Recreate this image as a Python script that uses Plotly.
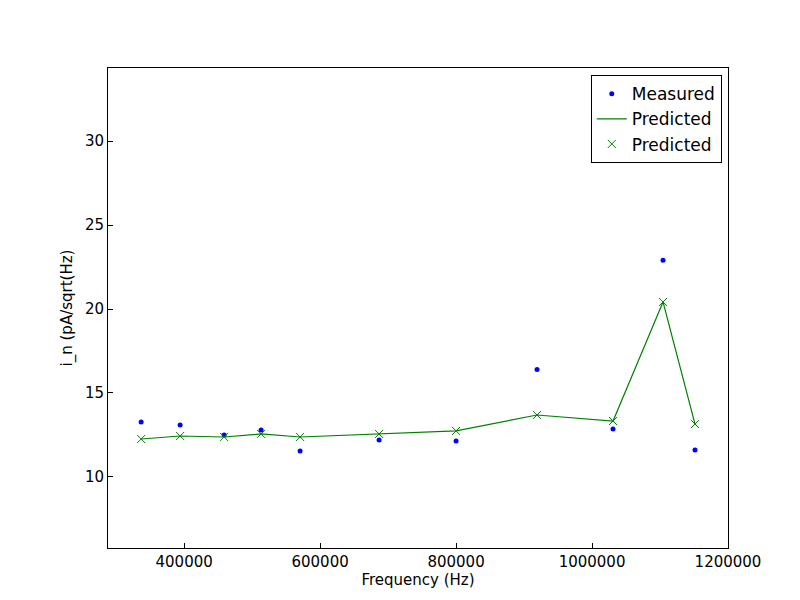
import plotly.graph_objects as go

freq = [336765, 394118, 458824, 513235, 570588, 686765, 800000, 919118, 1030882, 1104412, 1151471]
measured = [13.27, 13.10, 12.50, 12.80, 11.55, 12.20, 12.14, 16.40, 12.86, 22.90, 11.60]
predicted = [12.26, 12.44, 12.38, 12.56, 12.38, 12.56, 12.74, 13.69, 13.33, 20.42, 13.15]

fig = go.Figure()
fig.add_trace(go.Scatter(x=freq, y=measured, mode="markers", name="Measured",
                         marker=dict(color="blue", size=5)))
fig.add_trace(go.Scatter(x=freq, y=predicted, mode="lines", name="Predicted",
                         line=dict(color="green", width=1.2)))
fig.add_trace(go.Scatter(x=freq, y=predicted, mode="markers", name="Predicted",
                         marker=dict(color="green", symbol="x-thin-open", size=8,
                                     line=dict(color="green", width=1))))

axis = dict(showgrid=False, zeroline=False, showline=True, mirror=True, automargin=False,
            linecolor="black", linewidth=1, ticks="inside", ticklen=5,
            tickcolor="black", tickfont=dict(size=15))
fig.update_layout(
    width=800, height=600, plot_bgcolor="white", paper_bgcolor="white",
    font=dict(family="DejaVu Sans", color="black"),
    margin=dict(l=100, r=80, t=60, b=60, autoexpand=False),
    xaxis=dict(axis, range=[288000, 1200000], tickvals=[400000, 600000, 800000, 1000000, 1200000],
               ticktext=["400000", "600000", "800000", "1000000", "1200000"],
               title=dict(text="Frequency (Hz)", font=dict(size=15), standoff=4)),
    yaxis=dict(axis, range=[5.77, 34.35], tickvals=[10, 15, 20, 25, 30],
               title=dict(text="i_n (pA/sqrt(Hz)", font=dict(size=15), standoff=8)),
    showlegend=True,
    legend=dict(x=0.99, y=0.985, xanchor="right", yanchor="top", bgcolor="white",
                bordercolor="black", borderwidth=1, font=dict(size=17),
                itemwidth=30, tracegroupgap=0),
)
fig.write_html("out.html")
